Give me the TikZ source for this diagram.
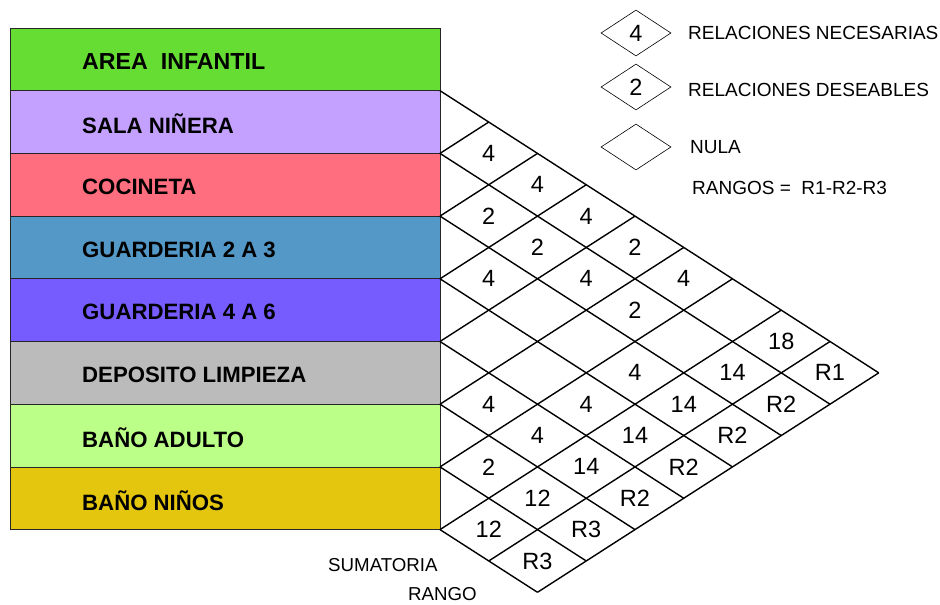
\documentclass[tikz,border=0pt]{standalone}
\usepackage{fontspec}
\setmainfont{Liberation Sans}
\usetikzlibrary{shapes.geometric}
\definecolor{cArea}{RGB}{102,221,51}
\definecolor{cSala}{RGB}{196,160,255}
\definecolor{cCoci}{RGB}{255,110,127}
\definecolor{cGuaA}{RGB}{83,152,199}
\definecolor{cGuaB}{RGB}{118,92,255}
\definecolor{cDepo}{RGB}{187,187,187}
\definecolor{cBanA}{RGB}{187,255,136}
\definecolor{cBanN}{RGB}{228,198,14}
\tikzset{
  rowbox/.style={draw=black!85, line width=0.8pt},
  rowlabel/.style={anchor=west, inner sep=0pt, font=\fontsize{22.2}{25}\selectfont\bfseries},
  gridline/.style={line width=1.4pt, black},
  cellnum/.style={inner sep=0pt, font=\fontsize{23.5}{27}\selectfont},
  legdiam/.style={draw, line width=0.6pt, diamond, aspect=1.52, minimum width=70pt, minimum height=46pt, inner sep=0pt, font=\fontsize{23.5}{27}\selectfont},
  legtext/.style={anchor=west, inner sep=0pt, font=\fontsize{19}{22}\selectfont},
  footnote/.style={anchor=west, inner sep=0pt, font=\fontsize{18.7}{22}\selectfont}
}
\begin{document}
\begin{tikzpicture}[x=1pt, y=-1pt]
\useasboundingbox (0,0) rectangle (940,605);
\fill[white] (0,0) rectangle (940,605);
% rows
\foreach \c/\t [count=\i from 0] in {cArea/{\fontsize{23.2}{26}\selectfont AREA\ \ INFANTIL}, cSala/{SALA NIÑERA}, cCoci/{COCINETA}, cGuaA/{GUARDERIA 2 A 3}, cGuaB/{GUARDERIA 4 A 6}, cDepo/{DEPOSITO LIMPIEZA}, cBanA/{BAÑO ADULTO}, cBanN/{BAÑO NIÑOS}} {
  \pgfmathsetmacro{\ya}{28+62.7*\i}
  \pgfmathsetmacro{\yb}{28+62.7*(\i+1)}
  \pgfmathsetmacro{\ym}{28+62.7*(\i+0.5)+2}
  \filldraw[rowbox, fill=\c] (10,\ya) rectangle (440,\yb);
  \node[rowlabel] (row\i) at (82,\ym) {\t};
}
% grid
\begin{scope}[shift={(440,90.7)}, x={(48.75pt,0pt)}, y={(0pt,-31.35pt)}]
  \foreach \k in {0,...,7} {
    \pgfmathtruncatemacro{\ex}{9-\k}
    \pgfmathtruncatemacro{\ey}{9+\k}
    \pgfmathtruncatemacro{\sy}{2*\k}
    \draw[gridline] (0,\sy) -- (\ex,\ey);
  }
  \foreach \m in {1,...,7} {
    \pgfmathtruncatemacro{\sy}{2*\m}
    \draw[gridline] (0,\sy) -- (\m,\m);
  }
  \draw[gridline] (1,15) -- (8,8);
  \draw[gridline] (2,16) -- (9,9);
  \foreach \a/\b/\t [count=\n] in {1/2/4, 2/3/4, 1/4/2, 3/4/4, 2/5/2, 4/5/2, 1/6/4, 3/6/4, 5/6/4, 4/7/2,
     7/8/18, 4/9/4, 6/9/14, 8/9/R1, 1/10/4, 3/10/4, 5/10/14, 7/10/R2, 2/11/4, 4/11/14, 6/11/R2,
     1/12/2, 3/12/14, 5/12/R2, 2/13/12, 4/13/R2, 1/14/12, 3/14/R3, 2/15/R3} {
    \node[cellnum] (cell\n) at (\a,\b) {\t};
  }
\end{scope}
% legend
\node[legdiam] (legA) at (636,33) {4};
\node[legdiam] (legB) at (636,87) {2};
\node[legdiam] (legC) at (636,147) {};
\node[legtext] (legAt) at (688,33) {RELACIONES NECESARIAS};
\node[legtext] (legBt) at (688,90) {RELACIONES DESEABLES};
\node[legtext] (legCt) at (690,147) {NULA};
\node[legtext] (legR) at (692,188) {RANGOS =\ \ R1-R2-R3};
% bottom labels
\node[footnote] (suma) at (328,565) {SUMATORIA};
\node[footnote] (rango) at (408,594) {RANGO};
\end{tikzpicture}
\end{document}
